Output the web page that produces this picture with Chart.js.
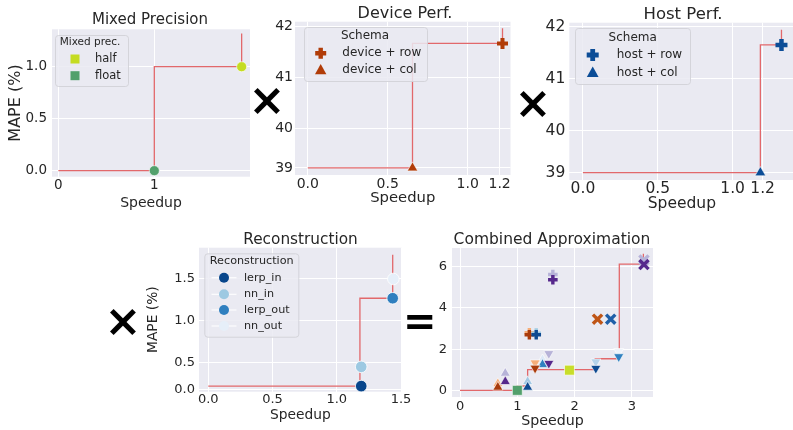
<!DOCTYPE html>
<html>
<head>
<meta charset="utf-8">
<script src="https://cdn.jsdelivr.net/npm/chart.js"></script>
<style>
  html, body { margin: 0; padding: 0; background: #fff; }
  #page { position: relative; width: 793px; height: 430px; overflow: hidden; background: #fff; }
  canvas { position: absolute; }
</style>
</head>
<body>
<div id="page">
  <canvas id="mixed"></canvas>
  <canvas id="device"></canvas>
  <canvas id="host"></canvas>
  <canvas id="recon"></canvas>
  <canvas id="combined"></canvas>
  <canvas id="ops"></canvas>
</div>
<script>
// ---- values ----
var mixedLabels = ['half', 'float'];
var mixedSpeedup = [1.91, 1.0];
var mixedMape = [1.0, 0.0];
var mixedFrontSpeedup = [0, 1.0, 1.91];
var mixedFrontMape = [0, 1.0, 1.32];

var devLabels = ['device + row', 'device + col'];
var devSpeedup = [1.218, 0.655];
var devMape = [41.67, 39.22];
var devFrontSpeedup = [0, 0.655, 1.218];
var devFrontMape = [39.22, 41.67, 41.97];

var hostLabels = ['host + row', 'host + col'];
var hostSpeedup = [1.326, 1.185];
var hostMape = [41.65, 39.19];
var hostFrontSpeedup = [0, 1.185, 1.326];
var hostFrontMape = [39.19, 41.65, 41.94];

var recLabels = ['lerp_in', 'nn_in', 'lerp_out', 'nn_out'];
var recSpeedup = [1.19, 1.19, 1.435, 1.44];
var recMape = [0.22, 0.45, 1.27, 1.5];
var recFrontSpeedup = [0, 1.18, 1.435];
var recFrontMape = [0.22, 1.27, 1.79];

// combined approximation, grouped by marker
var combUpSpeedup = [0.66, 0.66, 0.79, 0.79, 1.18, 1.18, 1.44, 1.44];
var combUpMape = [0.35, 0.18, 0.85, 0.45, 0.45, 0.18, 1.5, 1.27];
var combDownSpeedup = [1.31, 1.31, 1.55, 1.55, 2.37, 2.37, 2.77, 2.77];
var combDownMape = [1.35, 1.1, 1.8, 1.33, 1.4, 1.09, 1.9, 1.65];
var combPlusSpeedup = [1.21, 1.21, 1.33, 1.33, 1.62, 1.62];
var combPlusMape = [2.8, 2.7, 2.78, 2.7, 5.6, 5.35];
var combXSpeedup = [2.40, 2.63, 3.21, 3.21];
var combXMape = [3.45, 3.45, 6.3, 6.08];
var combSquareSpeedup = [1.0, 1.91];
var combSquareMape = [0.03, 1.0];
var combFrontSpeedup = [0, 0.99, 1.18, 2.36, 2.78, 3.2];
var combFrontMape = [0.03, 0.24, 1.03, 1.55, 6.1, 6.6];

// ticks
var mixedTicksX = [0, 1], mixedTickLabelsX = ['0', '1'];
var mixedTicksY = [0, 0.5, 1.0], mixedTickLabelsY = ['0.0', '0.5', '1.0'];
var perfTicksX = [0, 0.5, 1.0, 1.2], perfTickLabelsX = ['0.0', '0.5', '1.0', '1.2'];
var devTicksY = [39.22, 40, 41, 42], hostTicksY = [39.19, 40, 41, 42];
var perfTickLabelsY = ['39', '40', '41', '42'];
var recTicksX = [0, 0.5, 1.0, 1.5], recTickLabelsX = ['0.0', '0.5', '1.0', '1.5'];
var recTicksY = [0.18, 0.5, 1.0, 1.5], recTickLabelsY = ['0.0', '0.5', '1.0', '1.5'];
var combTicksX = [0, 1, 2, 3], combTickLabelsX = ['0', '1', '2', '3'];
var combTicksY = [0, 2, 4, 6], combTickLabelsY = ['0', '2', '4', '6'];

// ---- styles ----
var TEXT = '#262626';
var FONT = 'DejaVu Sans';
var LINE = '#e2686b';
var BG = '#eaeaf2';

var mixedColors = ['#c5dc22', '#52a06c'];
var devColor = '#b13c08';
var hostColor = '#0c4d97';
var recColors = ['#08468c', '#9dc9e2', '#2f7fbf', '#e6eff9'];
var combUpColors = ['#f6ad78', '#a93b0b', '#b7b3d8', '#56288c', '#a3c8e4', '#0e4a91', '#dde9f7', '#3080c0'];
var combDownColors = ['#f6ad78', '#a93b0b', '#b7b3d8', '#56288c', '#b5d2ea', '#0e4a91', '#eef3fa', '#3080c0'];
var combPlusColors = ['#f6ad78', '#a93b0b', '#9ecae1', '#0e4a91', '#b7b3d8', '#56288c'];
var combXColors = ['#bf5516', '#1f5fa8', '#b7b3d8', '#56288c'];
var combSquareColors = ['#52a06c', '#c8dd2a'];

function pts(xs, ys) {
  return xs.map(function (x, i) { return { x: x, y: ys[i] }; });
}

function frontier(xs, ys) {
  return {
    type: 'line', data: pts(xs, ys), stepped: 'before',
    borderColor: LINE, borderWidth: 1.3, pointRadius: 0, fill: false, order: 10
  };
}

function drawMarker(c, style, x, y, r, color) {
  c.save();
  c.fillStyle = color;
  c.strokeStyle = color;
  c.beginPath();
  if (style === 'plus') {
    c.lineWidth = r * 0.8;
    c.moveTo(x - r, y); c.lineTo(x + r, y);
    c.moveTo(x, y - r); c.lineTo(x, y + r);
    c.stroke();
  } else {
    if (style === 'circle') c.arc(x, y, r, 0, Math.PI * 2);
    else if (style === 'square') c.rect(x - r, y - r, 2 * r, 2 * r);
    else if (style === 'triangle') {
      c.moveTo(x, y - r);
      c.lineTo(x + r * 0.95, y + r * 0.7);
      c.lineTo(x - r * 0.95, y + r * 0.7);
      c.closePath();
    }
    c.fill();
  }
  c.restore();
}

function drawLegend(c, lg, box) {
  var ox = box.x, oy = box.y;
  c.save();
  c.beginPath();
  c.roundRect(lg.x - ox + 0.5, lg.y - oy + 0.5, lg.w, lg.h, 3);
  c.fillStyle = 'rgba(234,234,242,0.85)';
  c.fill();
  c.strokeStyle = 'rgba(210,210,215,0.9)';
  c.lineWidth = 1;
  c.stroke();
  c.fillStyle = TEXT;
  c.font = (lg.titleFont || lg.font) + 'px "' + FONT + '"';
  c.textBaseline = 'middle';
  c.textAlign = 'center';
  c.fillText(lg.title, lg.titleX - ox, lg.titleY - oy);
  c.font = lg.font + 'px "' + FONT + '"';
  c.textAlign = 'left';
  lg.items.forEach(function (it, i) {
    var y = lg.rowY[i] - oy;
    if (lg.line) {
      c.strokeStyle = 'rgba(255,255,255,0.9)';
      c.lineWidth = 1.2;
      c.beginPath();
      c.moveTo(lg.markerX - ox - 12.5, y);
      c.lineTo(lg.markerX - ox + 12.5, y);
      c.stroke();
    }
    drawMarker(c, it.style, lg.markerX - ox, y, it.r, it.color);
    c.fillStyle = TEXT;
    c.fillText(it.label, lg.textX - ox, y);
  });
  c.restore();
}

function deco(p) {
  return {
    id: 'deco',
    beforeDraw: function (chart) {
      var c = chart.ctx, a = chart.chartArea;
      c.save();
      c.fillStyle = BG;
      c.fillRect(a.left, a.top, a.right - a.left, a.bottom - a.top);
      c.restore();
    },
    afterDatasetsDraw: function (chart) {
      if (p.legend) drawLegend(chart.ctx, p.legend, p.box);
    },
    afterDraw: function (chart) {
      var c = chart.ctx;
      c.save();
      c.fillStyle = TEXT;
      c.font = p.titleSize + 'px "' + FONT + '"';
      c.textAlign = 'center';
      c.textBaseline = 'middle';
      c.fillText(p.title, p.titleX - p.box.x, p.titleY - p.box.y);
      c.restore();
    }
  };
}

function axis(ax, size, isX, box, area) {
  var cfg = {
    type: 'linear', min: ax.min, max: ax.max,
    afterBuildTicks: function (s) {
      s.ticks = ax.ticks.map(function (v) { return { value: v }; });
    },
    grid: { color: '#ffffff', lineWidth: 1, drawTicks: false },
    border: { display: false },
    ticks: {
      color: TEXT, font: { family: FONT, size: size }, padding: ax.pad,
      maxRotation: 0, autoSkip: false,
      callback: function (v, i) { return ax.labels[i]; }
    },
    title: {
      display: !!ax.title, text: ax.title, color: TEXT,
      font: { family: FONT, size: ax.titleSize },
      padding: isX ? { top: 0, bottom: ax.titlePad } : { top: ax.titlePad, bottom: 0 }
    }
  };
  if (isX) cfg.afterFit = function (s) { s.height = box.y + box.h - area.b; };
  else cfg.afterFit = function (s) { s.width = area.l - box.x; };
  return cfg;
}

function makePanel(p) {
  var cv = document.getElementById(p.id);
  cv.width = p.box.w;
  cv.height = p.box.h;
  cv.style.left = p.box.x + 'px';
  cv.style.top = p.box.y + 'px';
  var a = p.area;
  return new Chart(cv, {
    type: 'scatter',
    data: { datasets: p.datasets },
    options: {
      responsive: false,
      animation: false,
      events: [],
      layout: { padding: { left: 0, top: a.t - p.box.y, right: p.box.x + p.box.w - a.r, bottom: 0 } },
      plugins: { legend: { display: false }, tooltip: { enabled: false } },
      scales: {
        x: axis(p.x, p.tickSize, true, p.box, a),
        y: axis(p.y, p.tickSize, false, p.box, a)
      }
    },
    plugins: [deco(p)]
  });
}

// ---- Mixed Precision ----
makePanel({
  id: 'mixed',
  box: { x: 0, y: 0, w: 262, h: 215 },
  area: { l: 52, t: 29.3, r: 250, b: 176.7 },
  title: 'Mixed Precision', titleSize: 15, titleX: 150, titleY: 20,
  tickSize: 13.5,
  x: { min: -0.066, max: 1.997, ticks: mixedTicksX, labels: mixedTickLabelsX, pad: 1, title: 'Speedup', titleSize: 14, titlePad: 3.7 },
  y: { min: -0.058, max: 1.36, ticks: mixedTicksY, labels: mixedTickLabelsY, pad: 5, title: 'MAPE (%)', titleSize: 16, titlePad: 6 },
  datasets: [
    { data: pts([mixedSpeedup[0]], [mixedMape[0]]), pointStyle: 'circle', pointRadius: 5, pointBackgroundColor: mixedColors[0], pointBorderColor: '#fff', pointBorderWidth: 0.6 },
    { data: pts([mixedSpeedup[1]], [mixedMape[1]]), pointStyle: 'circle', pointRadius: 5, pointBackgroundColor: mixedColors[1], pointBorderColor: '#fff', pointBorderWidth: 0.6 },
    frontier(mixedFrontSpeedup, mixedFrontMape)
  ],
  legend: {
    x: 55, y: 35, w: 73, h: 51, font: 11.5, titleFont: 10.5,
    title: 'Mixed prec.', titleX: 90, titleY: 42.7,
    markerX: 75, textX: 95, rowY: [59, 75.7],
    items: [
      { label: mixedLabels[0], style: 'square', r: 4.5, color: mixedColors[0] },
      { label: mixedLabels[1], style: 'square', r: 4.5, color: mixedColors[1] }
    ]
  }
});

// ---- Device Perf. ----
makePanel({
  id: 'device',
  box: { x: 255, y: 0, w: 265, h: 215 },
  area: { l: 295, t: 21.7, r: 513, b: 175 },
  title: 'Device Perf.', titleSize: 16, titleX: 405, titleY: 14,
  tickSize: 14,
  x: { min: -0.08, max: 1.268, ticks: perfTicksX, labels: perfTickLabelsX, pad: 1, title: 'Speedup', titleSize: 14.8, titlePad: 7.8 },
  y: { min: 39.08, max: 42.098, ticks: devTicksY, labels: perfTickLabelsY, pad: 2 },
  datasets: [
    { data: pts([devSpeedup[0]], [devMape[0]]), pointStyle: 'cross', pointRadius: 5.5, pointBorderColor: devColor, pointBackgroundColor: devColor, pointBorderWidth: 4 },
    { data: pts([devSpeedup[1]], [devMape[1]]), pointStyle: 'triangle', pointRadius: 6, pointBackgroundColor: devColor, pointBorderColor: '#fff', pointBorderWidth: 0.6 },
    frontier(devFrontSpeedup, devFrontMape)
  ],
  legend: {
    x: 304, y: 27, w: 123, h: 54, font: 12,
    title: 'Schema', titleX: 365, titleY: 36,
    markerX: 320.7, textX: 342.3, rowY: [53.3, 70],
    items: [
      { label: devLabels[0], style: 'plus', r: 5.5, color: devColor },
      { label: devLabels[1], style: 'triangle', r: 6, color: devColor }
    ]
  }
});

// ---- Host Perf. ----
makePanel({
  id: 'host',
  box: { x: 520, y: 0, w: 285, h: 215 },
  area: { l: 569.3, t: 22.7, r: 800, b: 180 },
  title: 'Host Perf.', titleSize: 16.5, titleX: 683, titleY: 15,
  tickSize: 15.5,
  x: { min: -0.091, max: 1.413, ticks: perfTicksX, labels: perfTickLabelsX, pad: 0, title: 'Speedup', titleSize: 15.5, titlePad: 1.7 },
  y: { min: 39.05, max: 42.077, ticks: hostTicksY, labels: perfTickLabelsY, pad: 4 },
  datasets: [
    { data: pts([hostSpeedup[0]], [hostMape[0]]), pointStyle: 'cross', pointRadius: 6, pointBorderColor: hostColor, pointBackgroundColor: hostColor, pointBorderWidth: 4.5 },
    { data: pts([hostSpeedup[1]], [hostMape[1]]), pointStyle: 'triangle', pointRadius: 6.2, pointBackgroundColor: hostColor, pointBorderColor: '#fff', pointBorderWidth: 0.6 },
    frontier(hostFrontSpeedup, hostFrontMape)
  ],
  legend: {
    x: 575, y: 28, w: 115, h: 56, font: 12,
    title: 'Schema', titleX: 632.7, titleY: 38.3,
    markerX: 592.7, textX: 616.7, rowY: [55, 72.7],
    items: [
      { label: hostLabels[0], style: 'plus', r: 6, color: hostColor },
      { label: hostLabels[1], style: 'triangle', r: 6.2, color: hostColor }
    ]
  }
});

// ---- Reconstruction ----
makePanel({
  id: 'recon',
  box: { x: 140, y: 225, w: 280, h: 205 },
  area: { l: 199, t: 247.7, r: 401.7, b: 391.7 },
  title: 'Reconstruction', titleSize: 15.3, titleX: 300.5, titleY: 240,
  tickSize: 13,
  x: { min: -0.072, max: 1.505, ticks: recTicksX, labels: recTickLabelsX, pad: 0.5, title: 'Speedup', titleSize: 13.8, titlePad: 6.7 },
  y: { min: 0.153, max: 1.874, ticks: recTicksY, labels: recTickLabelsY, pad: 4, title: 'MAPE (%)', titleSize: 13.8, titlePad: 5 },
  datasets: recLabels.map(function (lab, i) {
    return { data: pts([recSpeedup[i]], [recMape[i]]), pointStyle: 'circle', pointRadius: 5.8, pointBackgroundColor: recColors[i], pointBorderColor: '#fff', pointBorderWidth: 0.8 };
  }).concat([frontier(recFrontSpeedup, recFrontMape)]),
  legend: {
    x: 204.3, y: 253.3, w: 94, h: 83.4, font: 11.2, line: true,
    title: 'Reconstruction', titleX: 251.7, titleY: 261,
    markerX: 224, textX: 244, rowY: [277.7, 294.3, 310, 326],
    items: recLabels.map(function (lab, i) {
      return { label: lab, style: 'circle', r: 5, color: recColors[i] };
    })
  }
});

// ---- Combined Approximation ----
makePanel({
  id: 'combined',
  box: { x: 420, y: 225, w: 250, h: 205 },
  area: { l: 452, t: 248, r: 653, b: 397 },
  title: 'Combined Approximation', titleSize: 15.5, titleX: 552, titleY: 240,
  tickSize: 13,
  x: { min: -0.14, max: 3.368, ticks: combTicksX, labels: combTickLabelsX, pad: 1.9, title: 'Speedup', titleSize: 14.2, titlePad: 0 },
  y: { min: -0.29, max: 6.875, ticks: combTicksY, labels: combTickLabelsY, pad: 5 },
  datasets: [
    { data: pts(combXSpeedup, combXMape), pointStyle: 'crossRot', pointRadius: 6.5, pointBorderColor: combXColors, pointBackgroundColor: combXColors, pointBorderWidth: 3.4 },
    { data: pts(combPlusSpeedup, combPlusMape), pointStyle: 'cross', pointRadius: 4.8, pointBorderColor: combPlusColors, pointBackgroundColor: combPlusColors, pointBorderWidth: 3.4 },
    { data: pts(combSquareSpeedup, combSquareMape), pointStyle: 'rect', pointRadius: 7, pointBackgroundColor: combSquareColors, pointBorderColor: '#fff', pointBorderWidth: 0.6 },
    { data: pts(combDownSpeedup, combDownMape), pointStyle: 'triangle', pointRotation: 180, pointRadius: 5.8, pointBackgroundColor: combDownColors, pointBorderColor: '#fff', pointBorderWidth: 0.6 },
    { data: pts(combUpSpeedup, combUpMape), pointStyle: 'triangle', pointRadius: 5.8, pointBackgroundColor: combUpColors, pointBorderColor: '#fff', pointBorderWidth: 0.6 },
    frontier(combFrontSpeedup, combFrontMape)
  ]
});

// ---- the x / = signs between panels ----
(function () {
  var cv = document.getElementById('ops');
  cv.width = 793; cv.height = 430;
  cv.style.left = '0px'; cv.style.top = '0px';
  var c = cv.getContext('2d');
  c.fillStyle = '#000';
  c.textAlign = 'left';
  c.textBaseline = 'alphabetic';
  function sign(ch, size, cx, cy) {
    c.font = 'bold ' + size + 'px "' + FONT + '"';
    var m = c.measureText(ch);
    var w = m.actualBoundingBoxRight + m.actualBoundingBoxLeft;
    var x = cx - w / 2 + m.actualBoundingBoxLeft;
    var y = cy + (m.actualBoundingBoxAscent - m.actualBoundingBoxDescent) / 2;
    c.fillText(ch, x, y);
  }
  sign('\u00d7', 44, 267, 101);
  sign('\u00d7', 44, 533, 104);
  sign('\u00d7', 44, 123, 322);
  sign('=', 40, 420, 322);
})();
</script>
</body>
</html>
